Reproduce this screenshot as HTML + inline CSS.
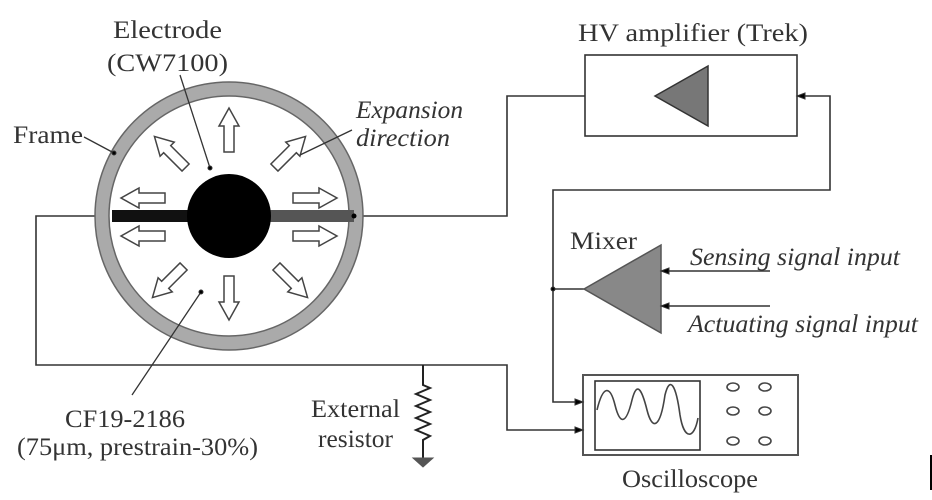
<!DOCTYPE html>
<html><head><style>body{margin:0;background:#fff}svg{display:block}text{font-family:"Liberation Serif",serif}</style></head><body>
<svg width="932" height="500" viewBox="0 0 932 500" xmlns="http://www.w3.org/2000/svg" fill="none" stroke="#333">
<defs>
<g id="arr"><path d="M-5,-22 L5,-22 L5,4 L10,4 L0,22 L-10,4 L-5,4 Z" fill="#fff" stroke="#444" stroke-width="1.5"/></g>
</defs>
<path d="M112,216 H36 V365 H507 V430 H583" stroke-width="1.6"/>
<path d="M352,216 H507 V96 H585" stroke-width="1.6"/>
<path d="M797,96 H830 V190 H553 V402 H583" stroke-width="1.6"/>
<path d="M553,289 H584" stroke-width="1.6"/>
<path d="M661,271 H770 M661,306 H770" stroke-width="1.6"/>
<circle cx="229" cy="216" r="127" stroke="#aaa" stroke-width="13" fill="#fff"/>
<circle cx="229" cy="216" r="134" stroke="#666" stroke-width="1.5"/>
<circle cx="229" cy="216" r="120" stroke="#666" stroke-width="1.5"/>
<rect x="112" y="210" width="80" height="12" fill="#111" stroke="none"/>
<rect x="268" y="210" width="86" height="12" fill="#555" stroke="none"/>
<circle cx="229" cy="216" r="42" fill="#000" stroke="none"/>
<circle cx="354" cy="216" r="2.5" fill="#000" stroke="none"/>
<use href="#arr" transform="translate(229,130) rotate(180)"/>
<use href="#arr" transform="translate(229,298)"/>
<use href="#arr" transform="translate(170,152) rotate(135)"/>
<use href="#arr" transform="translate(290,152) rotate(-135)"/>
<use href="#arr" transform="translate(168,282) rotate(45)"/>
<use href="#arr" transform="translate(292,282) rotate(-45)"/>
<use href="#arr" transform="translate(143,198) rotate(90)"/>
<use href="#arr" transform="translate(143,236) rotate(90)"/>
<use href="#arr" transform="translate(315,198) rotate(-90)"/>
<use href="#arr" transform="translate(315,236) rotate(-90)"/>
<path d="M180,75 L210,168" stroke-width="1.3"/><circle cx="210" cy="168" r="2" fill="#000"/>
<path d="M84,137 L114,153" stroke-width="1.3"/><circle cx="114" cy="153" r="2" fill="#000"/>
<path d="M352,130 L300,155" stroke-width="1.3"/>
<path d="M132,395 L201,292" stroke-width="1.3"/><circle cx="201" cy="292" r="2" fill="#000"/>
<path d="M423,365 V385 L430,388 L416,394 L430,400 L416,406 L430,412 L416,418 L430,424 L416,430 L430,436 L423,440 V458" stroke="#222" stroke-width="2"/>
<path d="M413,458 H433 L423,467 Z" fill="#555" stroke="#555"/>
<rect x="585" y="55" width="212" height="81" fill="#fff" stroke-width="1.6"/>
<path d="M655,96 L708,66 V126 Z" fill="#777" stroke="#333" stroke-width="1.5"/>
<path d="M805,93 L797,96 L805,99 Z" fill="#000"/>
<path d="M584,289 L661,245 V333 Z" fill="#888" stroke="#555" stroke-width="1.5"/>
<circle cx="553" cy="289" r="2" fill="#000"/>
<path d="M669,268 L661,271 L669,274 Z M669,303 L661,306 L669,309 Z" fill="#000"/>
<rect x="583" y="375" width="215" height="80" fill="#fff" stroke="#555" stroke-width="2"/>
<rect x="595" y="381" width="105" height="69" fill="#fff" stroke="#333" stroke-width="1.6"/>
<path d="M597,410 C603,385 610,385 615,405 C620,425 626,425 632,400 C637,380 642,390 647,410 C652,430 660,430 665,395 C670,375 676,385 680,415 C684,440 694,440 698,418" stroke="#444" stroke-width="1.6"/>
<g stroke="#444" stroke-width="1.6"><ellipse cx="733" cy="387" rx="6" ry="4"/><ellipse cx="765" cy="387" rx="6" ry="4"/><ellipse cx="733" cy="411" rx="6" ry="4"/><ellipse cx="765" cy="411" rx="6" ry="4"/><ellipse cx="733" cy="441" rx="6" ry="4"/><ellipse cx="765" cy="441" rx="6" ry="4"/></g>
<path d="M575,399 L583,402 L575,405 Z M575,427 L583,430 L575,433 Z" fill="#000"/>
<rect x="930" y="455" width="2" height="35" fill="#000" stroke="none"/>
<g fill="#333" stroke="none" font-size="25">
<text x="113" y="38" textLength="109" lengthAdjust="spacingAndGlyphs">Electrode</text>
<text x="107" y="71" textLength="121" lengthAdjust="spacingAndGlyphs">(CW7100)</text>
<text x="13" y="143" textLength="70" lengthAdjust="spacingAndGlyphs">Frame</text>
<text x="356" y="118" font-style="italic" textLength="107" lengthAdjust="spacingAndGlyphs">Expansion</text>
<text x="356" y="146" font-style="italic" textLength="94" lengthAdjust="spacingAndGlyphs">direction</text>
<text x="65" y="427" textLength="120" lengthAdjust="spacingAndGlyphs">CF19-2186</text>
<text x="17" y="455" textLength="241" lengthAdjust="spacingAndGlyphs">(75μm, prestrain-30%)</text>
<text x="311" y="417" textLength="89" lengthAdjust="spacingAndGlyphs">External</text>
<text x="318" y="447" textLength="75" lengthAdjust="spacingAndGlyphs">resistor</text>
<text x="578" y="41" textLength="230" lengthAdjust="spacingAndGlyphs">HV amplifier (Trek)</text>
<text x="570" y="249" textLength="67" lengthAdjust="spacingAndGlyphs">Mixer</text>
<text x="690" y="265" font-style="italic" textLength="210" lengthAdjust="spacingAndGlyphs">Sensing signal input</text>
<text x="688" y="332" font-style="italic" textLength="230" lengthAdjust="spacingAndGlyphs">Actuating signal input</text>
<text x="622" y="487" textLength="136" lengthAdjust="spacingAndGlyphs">Oscilloscope</text>
</g>
</svg>
</body></html>
